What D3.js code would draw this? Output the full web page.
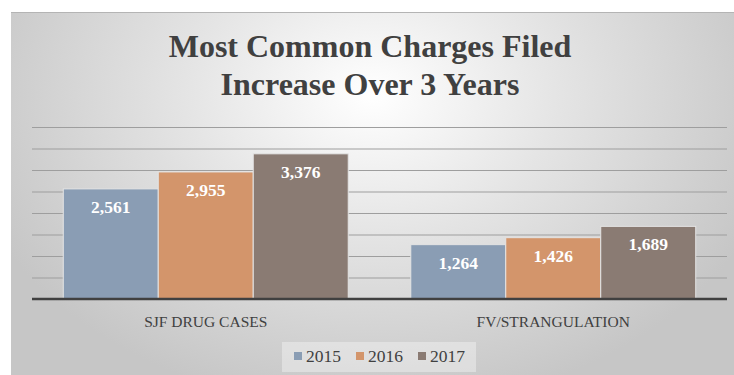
<!DOCTYPE html>
<html>
<head>
<meta charset="utf-8">
<script src="https://cdn.jsdelivr.net/npm/d3@7"></script>
<style>
  html, body { margin: 0; padding: 0; background: #ffffff; }
  svg { display: block; }
</style>
</head>
<body>
<svg id="chart" width="734" height="375"></svg>
<script>
// Charges filed per year, by charge type
const categories = ["SJF DRUG CASES", "FV/STRANGULATION"];
const years = ["2015", "2016", "2017"];
const values2015 = [2561, 1264];
const values2016 = [2955, 1426];
const values2017 = [3376, 1689];
const yTicks = [0, 500, 1000, 1500, 2000, 2500, 3000, 3500, 4000];
const titleLines = ["Most Common Charges Filed", "Increase Over 3 Years"];

const seriesValues = [values2015, values2016, values2017];
const colors = ["#8a9db4", "#d3956b", "#8a7b73"];

const svg = d3.select("#chart");
const W = 734, H = 375;
const serif = "'Liberation Serif', 'Times New Roman', serif";

// chart area background
const defs = svg.append("defs");
const grad = defs.append("radialGradient")
  .attr("id", "bg").attr("gradientUnits", "userSpaceOnUse")
  .attr("cx", 372).attr("cy", 95).attr("r", 420)
  .attr("gradientTransform", "translate(372,95) scale(1,0.75) translate(-372,-95)");
grad.append("stop").attr("offset", "0%").attr("stop-color", "#ffffff");
grad.append("stop").attr("offset", "45%").attr("stop-color", "#e4e4e4");
grad.append("stop").attr("offset", "100%").attr("stop-color", "#c6c6c6");

svg.append("rect")
  .attr("x", 11).attr("y", 12).attr("width", W - 11).attr("height", H - 12)
  .attr("fill", "url(#bg)");
svg.append("line")
  .attr("x1", 11).attr("x2", W).attr("y1", 12.5).attr("y2", 12.5)
  .attr("stroke", "#b4b4b4").attr("stroke-width", 1);

// scales
const x0 = d3.scaleBand().domain(categories).range([32, 727])
  .paddingInner(0.18).paddingOuter(0.09);
const x1 = d3.scaleBand().domain(years).range([0, x0.bandwidth()]);
const y = d3.scaleLinear().domain([0, 4000]).range([299, 127]);

// gridlines
const yAxis = d3.axisLeft(y).tickValues(yTicks).tickSize(-(727 - 32)).tickFormat("");
const gGrid = svg.append("g").attr("transform", "translate(32,0)").call(yAxis);
gGrid.select(".domain").remove();
gGrid.selectAll(".tick line").attr("stroke", "#9e9e9e").attr("stroke-width", 1.2);

// bars
const groups = svg.append("g").selectAll("g")
  .data(categories).join("g")
  .attr("transform", d => `translate(${x0(d)},0)`);

groups.selectAll("rect")
  .data((d, i) => years.map((yr, s) => ({ yr, s, v: seriesValues[s][i] })))
  .join("rect")
  .attr("x", d => x1(d.yr))
  .attr("y", d => y(d.v))
  .attr("width", x1.bandwidth())
  .attr("height", d => y(0) - y(d.v))
  .attr("fill", d => colors[d.s])
  .attr("stroke", "#e4e4e4")
  .attr("stroke-width", 1);

// value labels
groups.selectAll("text")
  .data((d, i) => years.map((yr, s) => ({ yr, s, v: seriesValues[s][i] })))
  .join("text")
  .attr("x", d => x1(d.yr) + x1.bandwidth() / 2)
  .attr("y", d => y(d.v) + 24)
  .attr("text-anchor", "middle")
  .attr("font-family", serif)
  .attr("font-weight", "bold")
  .attr("font-size", 17.5)
  .attr("fill", "#ffffff")
  .text(d => d3.format(",")(d.v));

// baseline
svg.append("line")
  .attr("x1", 32).attr("x2", 727).attr("y1", y(0)).attr("y2", y(0))
  .attr("stroke", "#404040").attr("stroke-width", 2.5);

// category axis labels
const xAxis = d3.axisBottom(x0).tickSize(0).tickPadding(0);
const gX = svg.append("g").attr("transform", `translate(0,${y(0)})`).call(xAxis);
gX.select(".domain").remove();
gX.selectAll("text")
  .attr("dy", 0).attr("y", 28)
  .attr("font-family", serif).attr("font-size", 15.5)
  .attr("fill", "#404040");

// title
svg.append("g").selectAll("text")
  .data(titleLines).join("text")
  .attr("x", 370)
  .attr("y", (d, i) => 57 + i * 38)
  .attr("text-anchor", "middle")
  .attr("font-family", serif)
  .attr("font-weight", "bold")
  .attr("font-size", 32)
  .attr("fill", "#404040")
  .text(d => d);

// legend
const legend = svg.append("g");
legend.append("rect")
  .attr("x", 282).attr("y", 342).attr("width", 194).attr("height", 30)
  .attr("fill", "#ffffff").attr("fill-opacity", 0.35);
const items = legend.selectAll("g.item").data(years).join("g")
  .attr("class", "item")
  .attr("transform", (d, i) => `translate(${294 + i * 62},0)`);
items.append("rect")
  .attr("x", 0).attr("y", 352).attr("width", 8).attr("height", 8)
  .attr("fill", (d, i) => colors[i]);
items.append("text")
  .attr("x", 12).attr("y", 362)
  .attr("font-family", serif).attr("font-size", 17.5)
  .attr("fill", "#404040")
  .text(d => d);
</script>
</body>
</html>
